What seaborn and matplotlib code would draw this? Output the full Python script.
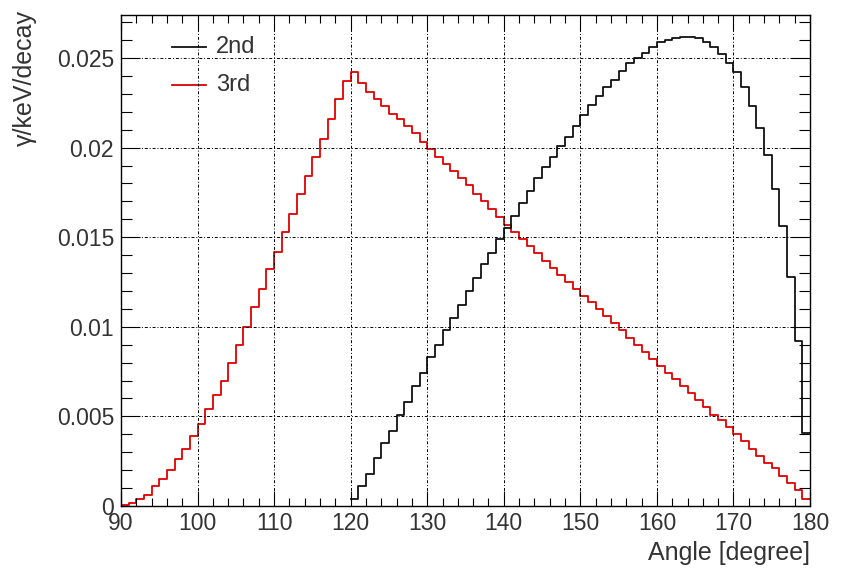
import numpy as np
import pandas as pd
import matplotlib
matplotlib.use("Agg")
import matplotlib.pyplot as plt
import seaborn as sns
from matplotlib.ticker import MultipleLocator, FixedLocator, FixedFormatter

# 1-degree bins: left edges of each bin
angle_3rd = list(range(90, 180))
gamma_3rd = [
    0.00005, 0.00015, 0.0004, 0.0006, 0.0011, 0.0015, 0.0020, 0.0026, 0.0032, 0.0039,
    0.0046, 0.0054, 0.0062, 0.0070, 0.0080, 0.0090, 0.0100, 0.0111, 0.0121, 0.0132,
    0.0142, 0.0153, 0.0163, 0.0174, 0.0184, 0.0195, 0.0205, 0.0216, 0.0227, 0.0237,
    0.0242, 0.0236, 0.0231, 0.0227, 0.0223, 0.0219, 0.0216, 0.0212, 0.0208, 0.0203,
    0.0199, 0.0195, 0.0191, 0.0187, 0.0183, 0.0179, 0.0174, 0.0170, 0.0166, 0.0161,
    0.0157, 0.0153, 0.0149, 0.0145, 0.0141, 0.0137, 0.0133, 0.0129, 0.0125, 0.0121,
    0.0117, 0.0114, 0.0110, 0.0106, 0.0102, 0.0098, 0.0094, 0.0090, 0.0086, 0.0082,
    0.0078, 0.0074, 0.0071, 0.0067, 0.0063, 0.0059, 0.0055, 0.0051, 0.0048, 0.0044,
    0.0040, 0.0036, 0.0032, 0.0028, 0.0024, 0.0021, 0.0017, 0.0013, 0.0009, 0.0004,
]

angle_2nd = list(range(120, 180))
gamma_2nd = [
    0.0004, 0.0011, 0.0018, 0.0027, 0.0035, 0.0042, 0.0051, 0.0058, 0.0067, 0.0074,
    0.0083, 0.0090, 0.0098, 0.0105, 0.0112, 0.0120, 0.0127, 0.0135, 0.0141, 0.0149,
    0.0155, 0.0162, 0.0169, 0.0176, 0.0183, 0.0189, 0.0195, 0.0201, 0.0206, 0.0212,
    0.0218, 0.0224, 0.0229, 0.0234, 0.0238, 0.0243, 0.0247, 0.0250, 0.0253, 0.0256,
    0.0259, 0.0260, 0.0261, 0.0262, 0.0262, 0.0261, 0.0259, 0.0256, 0.0252, 0.0247,
    0.0242, 0.0234, 0.0223, 0.0211, 0.0196, 0.0177, 0.0156, 0.0128, 0.0092, 0.0041,
]

x_ticks = [90, 100, 110, 120, 130, 140, 150, 160, 170, 180]
x_tick_labels = ["90", "100", "110", "120", "130", "140", "150", "160", "170", "180"]
y_ticks = [0, 0.005, 0.01, 0.015, 0.02, 0.025]
y_tick_labels = ["0", "0.005", "0.01", "0.015", "0.02", "0.025"]
series_names = ["2nd", "3rd"]

BLACK = "#111111"
RED = "#e00000"
TEXT = "#333333"

plt.rcParams["font.family"] = ["Liberation Sans", "DejaVu Sans"]

fig = plt.figure(figsize=(8.45, 5.79), dpi=100)
ax = fig.add_axes([121 / 845, 1 - 506 / 579, 689 / 845, 491 / 579])

df2 = pd.DataFrame({"angle": np.array(angle_2nd, dtype=float) + 0.5, "w": gamma_2nd})
df3 = pd.DataFrame({"angle": np.array(angle_3rd, dtype=float) + 0.5, "w": gamma_3rd})

sns.histplot(data=df3, x="angle", weights="w", binwidth=1, binrange=(90, 180),
             element="step", fill=False, color=RED, linewidth=1.3, ax=ax)
sns.histplot(data=df2, x="angle", weights="w", binwidth=1, binrange=(120, 180),
             element="step", fill=False, color=BLACK, linewidth=1.3, ax=ax)

ax.set_xlim(90, 180)
ax.set_ylim(0, 0.0274)

ax.xaxis.set_major_locator(FixedLocator(x_ticks))
ax.xaxis.set_major_formatter(FixedFormatter(x_tick_labels))
ax.xaxis.set_minor_locator(MultipleLocator(2))
ax.yaxis.set_major_locator(FixedLocator(y_ticks))
ax.yaxis.set_major_formatter(FixedFormatter(y_tick_labels))
ax.yaxis.set_minor_locator(MultipleLocator(0.001))

ax.tick_params(axis="both", which="both", direction="in", top=True, right=True,
               colors="black", labelcolor=TEXT, width=0.8)
ax.tick_params(axis="x", which="major", length=11, labelsize=16.5, pad=4)
ax.tick_params(axis="x", which="minor", length=6)
ax.tick_params(axis="y", which="major", length=14, labelsize=16.5, pad=5)
ax.tick_params(axis="y", which="minor", length=8)

for s in ax.spines.values():
    s.set_color("black")
    s.set_linewidth(1.0)

ax.grid(True, which="major", color="black", linewidth=0.7,
        linestyle=(0, (3, 2, 1, 2)))
ax.set_axisbelow(False)

ax.set_xlabel("Angle [degree]", fontsize=18, color=TEXT, ha="right")
ax.xaxis.set_label_coords(1.0, -0.072)
ax.set_ylabel("γ/keV/decay", fontsize=18, color=TEXT, ha="right")
ax.yaxis.set_label_coords(-0.122, 1.01)

# legend without frame, drawn in axes coordinates
for name, color, yfrac in zip(series_names, [BLACK, RED], [0.935, 0.858]):
    ax.plot([0.074, 0.124], [yfrac, yfrac], transform=ax.transAxes,
            color=color, linewidth=1.3, clip_on=False)
    ax.text(0.138, yfrac, name, transform=ax.transAxes, fontsize=17,
            color=TEXT, va="center", ha="left")

fig.savefig("out.png", dpi=100)
